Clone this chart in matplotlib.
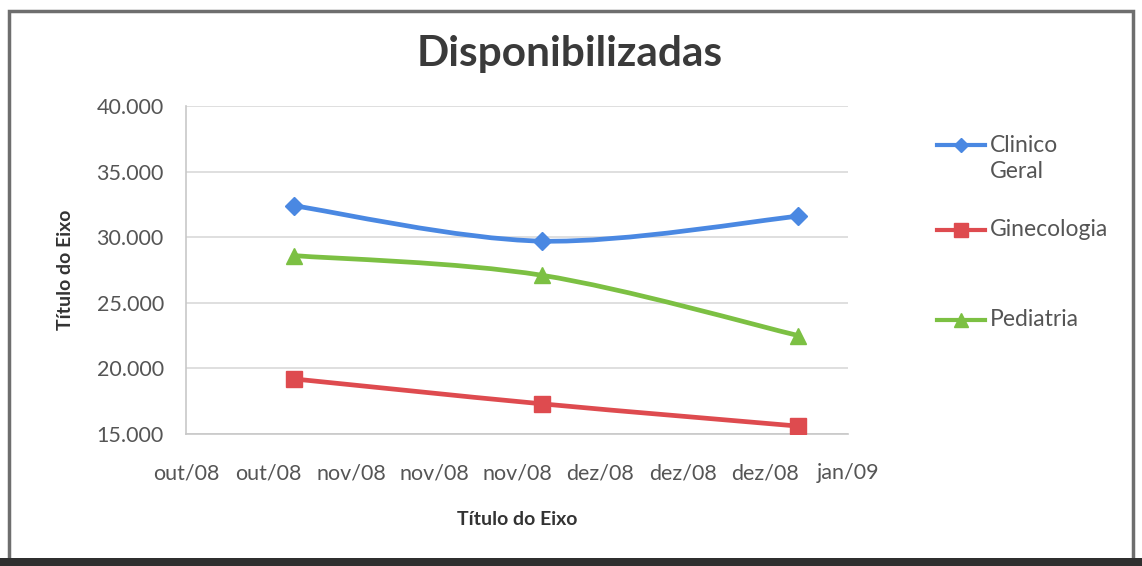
import matplotlib
matplotlib.use("Agg")
import matplotlib.pyplot as plt
import matplotlib.dates as mdates
from matplotlib.path import Path
from matplotlib.patches import PathPatch, Rectangle
from matplotlib.lines import Line2D
import datetime as dt

# ---- data ----
dates = [dt.date(2008, 10, 31), dt.date(2008, 11, 30), dt.date(2008, 12, 31)]
clinico_geral = [32400, 29700, 31600]
ginecologia = [19200, 17300, 15600]
pediatria = [28600, 27100, 22500]
series_names = ["Clinico\nGeral", "Ginecologia", "Pediatria"]
series_colors = ["#4A88E2", "#DE4B4F", "#7CC043"]
series_markers = ["D", "s", "^"]
month_abbr_pt = ["jan", "fev", "mar", "abr", "mai", "jun",
                 "jul", "ago", "set", "out", "nov", "dez"]
x_start = dt.date(2008, 10, 18)
x_end = dt.date(2009, 1, 6)
tick_step_days = 10
y_min, y_max, y_step = 15000, 40000, 5000
title = "Disponibilizadas"
axis_title = "Título do Eixo"

plt.rcParams['font.family'] = ['Lato', 'DejaVu Sans']

W, H = 1142, 566
fig = plt.figure(figsize=(W / 100, H / 100), dpi=100)
fig.patch.set_facecolor("white")

# outer frame
fig.patches.append(Rectangle((9 / W, 5 / H), (1133 - 9) / W, (558 - 8) / H,
                             transform=fig.transFigure, fill=False,
                             edgecolor="#6e6e6e", linewidth=2.5))
fig.patches.append(Rectangle((0, 0), 1, 8 / H, transform=fig.transFigure,
                             facecolor="#2f2f2f", edgecolor="none"))

ax = fig.add_axes([186 / W, 1 - 434 / H, (848 - 186) / W, (434 - 106) / H])

x_num = [mdates.date2num(d) for d in dates]


def smooth_path(xs, ys):
    verts = [(xs[0], ys[0])]
    codes = [Path.MOVETO]
    n = len(xs)
    for i in range(n - 1):
        p0 = (xs[i - 1], ys[i - 1]) if i > 0 else (xs[i], ys[i])
        p1 = (xs[i], ys[i])
        p2 = (xs[i + 1], ys[i + 1])
        p3 = (xs[i + 2], ys[i + 2]) if i + 2 < n else p2
        c1 = (p1[0] + (p2[0] - p0[0]) / 6, p1[1] + (p2[1] - p0[1]) / 6)
        c2 = (p2[0] - (p3[0] - p1[0]) / 6, p2[1] - (p3[1] - p1[1]) / 6)
        verts += [c1, c2, p2]
        codes += [Path.CURVE4] * 3
    return Path(verts, codes)


all_series = [clinico_geral, ginecologia, pediatria]
for vals, col, mk in zip(all_series, series_colors, series_markers):
    ax.add_patch(PathPatch(smooth_path(x_num, vals), facecolor="none",
                           edgecolor=col, linewidth=3.4, zorder=3,
                           capstyle="round", joinstyle="round"))
    ax.plot(x_num, vals, linestyle="none", marker=mk, color=col,
            markersize=11 if mk != "D" else 9, zorder=4)

ax.set_xlim(mdates.date2num(x_start), mdates.date2num(x_end))
ax.set_ylim(y_min, y_max)
ticks = [mdates.date2num(x_start + dt.timedelta(days=tick_step_days * k))
         for k in range(9)]
ax.set_xticks(ticks)
ax.set_xticklabels([
    f"{month_abbr_pt[mdates.num2date(t).month - 1]}/{mdates.num2date(t).year % 100:02d}"
    for t in ticks])
ax.set_yticks(range(y_min, y_max + 1, y_step))
ax.set_yticklabels([f"{v:,}".replace(",", ".") for v in range(y_min, y_max + 1, y_step)])

ax.grid(axis="y", color="#d9d9d9", linewidth=1.2)
ax.set_axisbelow(True)
for s in ["top", "right"]:
    ax.spines[s].set_visible(False)
for s in ["left", "bottom"]:
    ax.spines[s].set_color("#c8c8c8")
    ax.spines[s].set_linewidth(1.2)
ax.tick_params(axis="both", length=0, labelsize=15.5, colors="#555555")
ax.tick_params(axis="x", pad=21)
ax.tick_params(axis="y", pad=16)

ax.set_xlabel(axis_title, fontsize=14, fontweight="bold", color="#333333", labelpad=20)
ax.set_ylabel(axis_title, fontsize=14, fontweight="bold", color="#333333", labelpad=16)

fig.text(570 / W, 1 - 54 / H, title, ha="center", va="center",
         fontsize=30.5, fontweight="bold", color="#3a3a3a")

# legend (manual)
legend_rows = [145, 230, 320]
for name, col, mk, yy in zip(series_names, series_colors, series_markers, legend_rows):
    yf = 1 - yy / H
    fig.lines.append(Line2D([937 / W, 985 / W], [yf, yf], transform=fig.transFigure,
                            color=col, linewidth=3))
    fig.lines.append(Line2D([961 / W], [yf], transform=fig.transFigure, color=col,
                            marker=mk, markersize=10 if mk != "D" else 7,
                            linestyle="none"))
    for k, line in enumerate(name.split("\n")):
        fig.text(990 / W, 1 - (yy + 27 * k) / H, line, ha="left", va="center",
                 fontsize=16.5, color="#555555", transform=fig.transFigure)

fig.savefig("out.png", dpi=100, facecolor="white")
